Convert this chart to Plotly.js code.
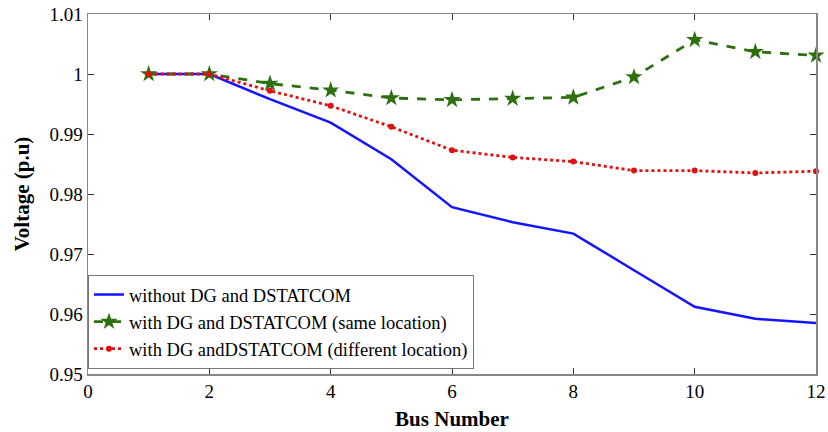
<!DOCTYPE html>
<html><head><meta charset="utf-8">
<script src="https://cdn.plot.ly/plotly-3.0.1.min.js"></script>
<style>html,body{margin:0;padding:0;background:#fff}#chart{width:828px;height:432px}</style>
</head><body><div id="chart"></div>
<script>
const busNumbers = [1,2,3,4,5,6,7,8,9,10,11,12];
const withoutDG = [1.0,1.0,0.9958,0.9919,0.9858,0.9778,0.9753,0.9734,0.9673,0.9612,0.9592,0.9585];
const sameLocation = [1.0,1.0,0.9984,0.9973,0.9960,0.9957,0.9959,0.9961,0.9995,1.0057,1.0037,1.0031];
const differentLocation = [1.0,1.0,0.9972,0.9947,0.9912,0.9873,0.9861,0.9854,0.9839,0.9839,0.9835,0.9838];
const xTicks = [0,2,4,6,8,10,12];
const yTicks = [0.95,0.96,0.97,0.98,0.99,1,1.01];
const yTickText = ['0.95','0.96','0.97','0.98','0.99','1','1.01'];

const font = 'Liberation Serif';
const traces = [
  {x: busNumbers, y: withoutDG, name: 'without DG and DSTATCOM', mode: 'lines',
   line: {color: '#1414ff', width: 2.5}},
  {x: busNumbers, y: sameLocation, name: 'with DG and DSTATCOM (same location)', mode: 'lines+markers',
   line: {color: '#2e7010', width: 2.8, dash: 'dash'},
   marker: {symbol: 'star', size: 13, color: '#2e7010'}, cliponaxis: false},
  {x: busNumbers, y: differentLocation, name: 'with DG andDSTATCOM (different location)', mode: 'lines+markers',
   line: {color: '#e01010', width: 2.8, dash: 'dot'},
   marker: {symbol: 'circle', size: 6, color: '#e01010'}, cliponaxis: false}
];
const layout = {
  width: 828, height: 432,
  margin: {l: 88, r: 12, t: 14, b: 58},
  paper_bgcolor: '#fff', plot_bgcolor: '#fff',
  font: {family: font, size: 16, color: '#000'},
  showlegend: true,
  legend: {x: 0, y: 0.275, xanchor: 'left', yanchor: 'top', bgcolor: '#fff',
           bordercolor: '#777', borderwidth: 1, font: {family: font, size: 18.5, color: '#000'},
           tracegroupgap: 0, itemwidth: 30},
  xaxis: {range: [0, 12], tickvals: xTicks, ticks: 'inside', ticklen: 6, tickcolor: '#333',
          showline: true, linecolor: '#888', linewidth: 1.5, mirror: 'ticks', showgrid: false, zeroline: false,
          title: {text: '<b>Bus Number</b>', font: {family: font, size: 21}, standoff: 10},
          tickfont: {family: font, size: 19}},
  yaxis: {range: [0.95, 1.01], tickvals: yTicks, ticktext: yTickText, ticks: 'inside', ticklen: 6, tickcolor: '#333',
          showline: true, linecolor: '#888', linewidth: 1.5, mirror: 'ticks', showgrid: false, zeroline: false,
          title: {text: '<b>Voltage (p.u)</b>', font: {family: font, size: 21}, standoff: 14},
          tickfont: {family: font, size: 19}}
};
Plotly.newPlot('chart', traces, layout, {displayModeBar: false, staticPlot: true});
</script></body></html>
